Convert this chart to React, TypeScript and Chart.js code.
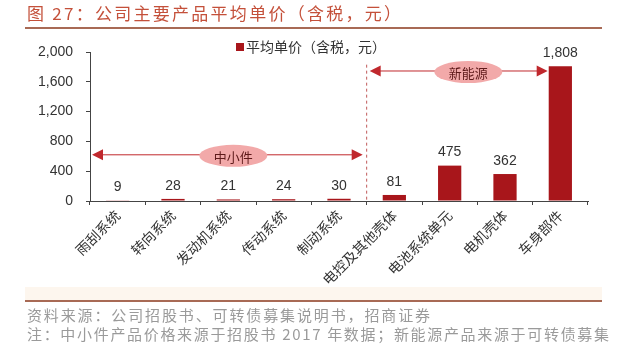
import React, { useEffect, useRef } from "react";
import { Chart, registerables } from "chart.js";

Chart.register(...registerables);

const titleText = "图 27：公司主要产品平均单价（含税，元）";
const legendLabel = "平均单价（含税，元）";
const categories = ["雨刮系统", "转向系统", "发动机系统", "传动系统", "制动系统", "电控及其他壳体", "电池系统单元", "电机壳体", "车身部件"];
const prices = [9, 28, 21, 24, 30, 81, 475, 362, 1808];
const yTicks = [0, 400, 800, 1200, 1600, 2000];
const groupLabels = ["中小件", "新能源"];
const groupArrowValues = [620, 1745];
const footerLines = [
  "资料来源：公司招股书、可转债募集说明书，招商证券",
  "注：中小件产品价格来源于招股书 2017 年数据；新能源产品来源于可转债募集",
];

const CJK = "'Noto Sans CJK SC', 'Noto Sans', sans-serif";
const NUM = "'Liberation Sans', Arial, sans-serif";
const BAR = "#a8161b";

function fitText(ctx: CanvasRenderingContext2D, text: string, x: number, y: number, width: number) {
  const chars = Array.from(text);
  const natural = ctx.measureText(text).width;
  const sp = chars.length > 1 ? (width - natural) / (chars.length - 1) : 0;
  let cx = x;
  ctx.textAlign = "left";
  for (const ch of chars) {
    ctx.fillText(ch, cx, y);
    cx += ctx.measureText(ch).width + sp;
  }
}

function arrowHead(ctx: CanvasRenderingContext2D, tipX: number, y: number, dir: number) {
  ctx.beginPath();
  ctx.moveTo(tipX, y);
  ctx.lineTo(tipX - dir * 11, y - 5.5);
  ctx.lineTo(tipX - dir * 11, y + 5.5);
  ctx.closePath();
  ctx.fill();
}

function ellipseLabel(ctx: CanvasRenderingContext2D, cx: number, cy: number, text: string) {
  ctx.save();
  ctx.fillStyle = "#f2a9a9";
  ctx.beginPath();
  ctx.ellipse(cx, cy, 34, 11, 0, 0, Math.PI * 2);
  ctx.fill();
  ctx.fillStyle = "#5e1a1a";
  ctx.font = `13px ${CJK}`;
  ctx.textAlign = "center";
  ctx.textBaseline = "middle";
  ctx.fillText(text, cx, cy + 1);
  ctx.restore();
}

const decorPlugin = {
  id: "decor",
  beforeDraw(chart: any) {
    const ctx = chart.ctx as CanvasRenderingContext2D;
    ctx.save();
    ctx.fillStyle = "#ffffff";
    ctx.fillRect(0, 0, chart.width, chart.height);
    ctx.fillStyle = "#fdf6ee";
    ctx.fillRect(25, 287, 577, 13);
    ctx.restore();
  },
  afterDraw(chart: any) {
    const ctx = chart.ctx as CanvasRenderingContext2D;
    const xs = chart.scales.x;
    const ys = chart.scales.y;
    const area = chart.chartArea;
    const meta = chart.getDatasetMeta(0);
    ctx.save();

    // title
    ctx.fillStyle = "#c4503a";
    ctx.font = `17px ${CJK}`;
    ctx.textBaseline = "middle";
    fitText(ctx, titleText, 27, 14, 374);
    ctx.strokeStyle = "#a86a55";
    ctx.lineWidth = 2;
    ctx.beginPath();
    ctx.moveTo(25, 28);
    ctx.lineTo(602, 28);
    ctx.stroke();

    // bottom rule and footer
    ctx.beginPath();
    ctx.moveTo(25, 301);
    ctx.lineTo(602, 301);
    ctx.stroke();
    ctx.fillStyle = "#9a9a9a";
    ctx.font = `15px ${CJK}`;
    fitText(ctx, footerLines[0], 27, 315, 403);
    fitText(ctx, footerLines[1], 27, 334, 582);

    // legend
    ctx.fillStyle = BAR;
    ctx.fillRect(236, 43, 8, 8);
    ctx.fillStyle = "#333333";
    ctx.font = `14px ${CJK}`;
    ctx.textAlign = "left";
    ctx.textBaseline = "middle";
    ctx.fillText(legendLabel, 246, 47);

    // data labels
    ctx.font = `14px ${NUM}`;
    ctx.fillStyle = "#333333";
    ctx.textAlign = "center";
    ctx.textBaseline = "bottom";
    meta.data.forEach((bar: any, i: number) => {
      ctx.fillText(prices[i].toLocaleString("en-US"), bar.x, bar.y - 6);
    });

    // annotations
    const px = categories.map((_, i) => xs.getPixelForValue(i));
    const dashX = (px[4] + px[5]) / 2;
    const red = "#c0282d";
    ctx.strokeStyle = "#c05a5a";
    ctx.lineWidth = 1;
    ctx.setLineDash([3, 3]);
    ctx.beginPath();
    ctx.moveTo(dashX, ys.getPixelForValue(1830));
    ctx.lineTo(dashX, area.bottom);
    ctx.stroke();
    ctx.setLineDash([]);

    ctx.strokeStyle = red;
    ctx.fillStyle = red;
    ctx.lineWidth = 1;
    // lower arrow
    const y1 = ys.getPixelForValue(groupArrowValues[0]);
    const l1 = area.left + 2;
    const r1 = dashX - 4;
    ctx.beginPath();
    ctx.moveTo(l1 + 5, y1);
    ctx.lineTo(r1 - 5, y1);
    ctx.stroke();
    arrowHead(ctx, l1, y1, -1);
    arrowHead(ctx, r1, y1, 1);
    // upper arrow
    const y2 = ys.getPixelForValue(groupArrowValues[1]);
    const l2 = dashX + 3;
    const r2 = meta.data[8].x - meta.data[8].width / 2 - 1;
    ctx.beginPath();
    ctx.moveTo(l2 + 5, y2);
    ctx.lineTo(r2 - 5, y2);
    ctx.stroke();
    arrowHead(ctx, l2, y2, -1);
    arrowHead(ctx, r2, y2, 1);

    ellipseLabel(ctx, px[2] + 5, y1 + 1, groupLabels[0]);
    ellipseLabel(ctx, (px[6] + px[7]) / 2 - 9, y2 + 1, groupLabels[1]);

    ctx.restore();
  },
};

export default function App() {
  const ref = useRef<HTMLCanvasElement>(null);
  useEffect(() => {
    if (!ref.current) return;
    const chart = new Chart(ref.current, {
      type: "bar",
      data: {
        labels: categories,
        datasets: [
          {
            label: legendLabel,
            data: prices,
            backgroundColor: BAR,
            categoryPercentage: 1,
            barPercentage: 0.42,
          },
        ],
      },
      options: {
        responsive: false,
        animation: false,
        layout: { padding: { top: 52, right: 52, left: 0, bottom: 0 } },
        plugins: { legend: { display: false }, tooltip: { enabled: false } },
        scales: {
          x: {
            grid: { drawOnChartArea: false, drawTicks: true, tickLength: 4, color: "#444" },
            border: { color: "#444", width: 1 },
            ticks: {
              minRotation: 45,
              maxRotation: 45,
              autoSkip: false,
              padding: 2,
              color: "#333",
              font: { family: CJK, size: 14 },
            },
            afterFit: (s: any) => {
              s.height = 155;
            },
          },
          y: {
            min: 0,
            max: 2000,
            afterBuildTicks: (s: any) => {
              s.ticks = yTicks.map((v) => ({ value: v }));
            },
            grid: { drawOnChartArea: false, drawTicks: true, tickLength: 4, color: "#444" },
            border: { color: "#444", width: 1 },
            ticks: {
              padding: 13,
              color: "#333",
              font: { family: NUM, size: 14 },
              callback: (v: any) => Number(v).toLocaleString("en-US"),
            },
            afterFit: (s: any) => {
              s.width = 90;
            },
          },
        },
      },
      plugins: [decorPlugin],
    });
    return () => chart.destroy();
  }, []);
  return (
    <div style={{ position: "absolute", left: 0, top: 0, width: 640, height: 356 }}>
      <canvas ref={ref} width={640} height={356} style={{ width: 640, height: 356 }} />
    </div>
  );
}
